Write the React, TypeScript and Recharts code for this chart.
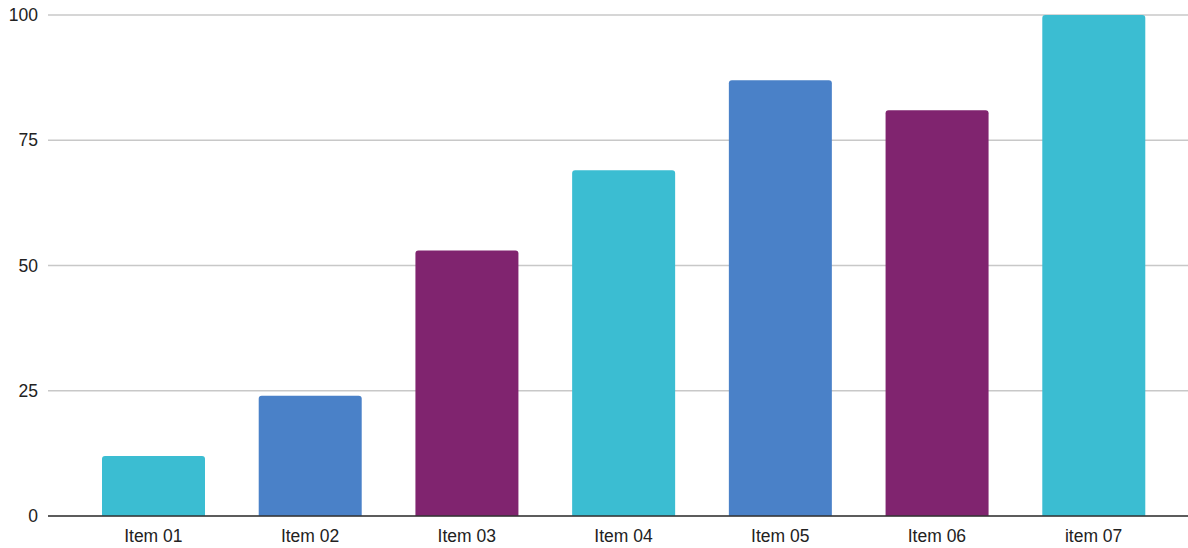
import React from 'react';
import { BarChart, Bar, XAxis, YAxis, CartesianGrid, Cell } from 'recharts';

const categories = ['Item 01', 'Item 02', 'Item 03', 'Item 04', 'Item 05', 'Item 06', 'item 07'];
const values = [12, 24, 53, 69, 87, 81, 100];
const barColors = ['#3bbdd2', '#4a81c8', '#80246f', '#3bbdd2', '#4a81c8', '#80246f', '#3bbdd2'];
const yTicks = [0, 25, 50, 75, 100];

const data = categories.map((name, i) => ({ name, value: values[i] }));

const App: React.FC = () => {
  return (
    <div style={{ position: 'absolute', left: 0, top: 0, width: 1188, height: 548, background: '#fff' }}>
      <BarChart
        width={1188}
        height={548}
        data={data}
        margin={{ top: 15, right: 0, bottom: 0, left: 0 }}
        style={{ fontFamily: '"Liberation Sans", Arial, sans-serif' }}
      >
        <CartesianGrid vertical={false} stroke="#c8c8c8" strokeWidth={1.5} />
        <XAxis
          dataKey="name"
          height={32}
          padding={{ left: 27, right: 16 }}
          tickLine={false}
          axisLine={{ stroke: '#333', strokeWidth: 1.5 }}
          tick={{ fill: '#222', fontSize: 17.5 }}
          tickMargin={8}
        />
        <YAxis
          width={48}
          domain={[0, 100]}
          ticks={yTicks}
          tickLine={false}
          axisLine={false}
          tick={{ fill: '#222', fontSize: 17.5 }}
          tickMargin={4}
        />
        <Bar dataKey="value" barSize={103} radius={[3, 3, 0, 0]} isAnimationActive={false}>
          {data.map((d, i) => (
            <Cell key={d.name} fill={barColors[i]} />
          ))}
        </Bar>
      </BarChart>
    </div>
  );
};

export default App;
